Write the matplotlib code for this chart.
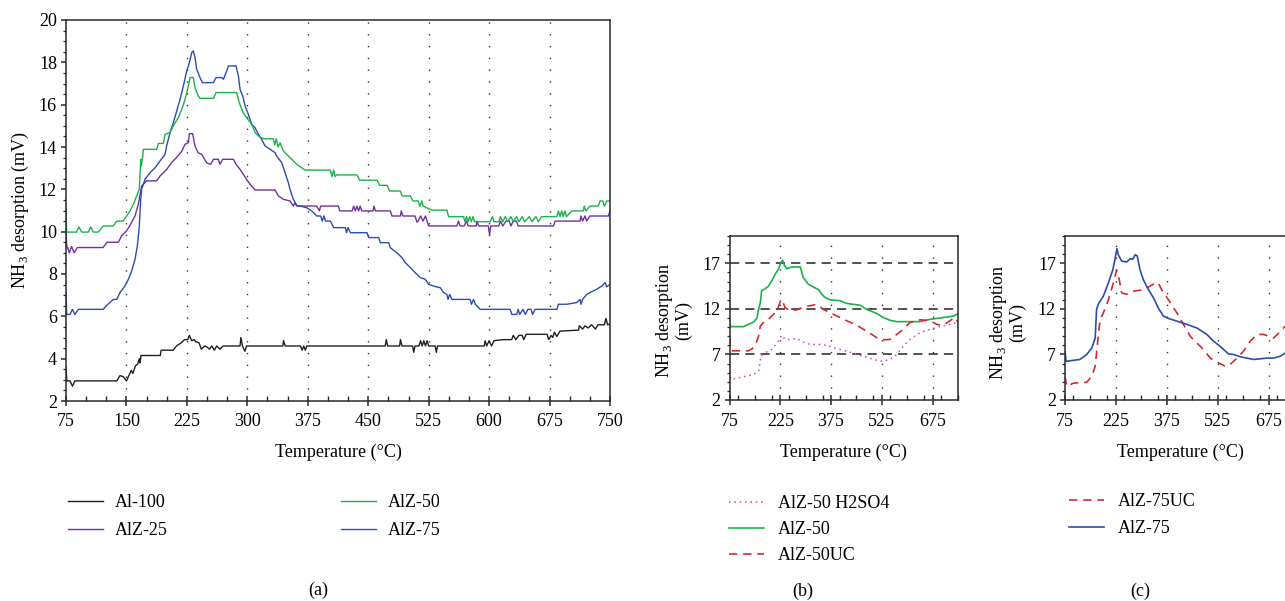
import matplotlib
matplotlib.use("Agg")
import matplotlib.pyplot as plt
from matplotlib.ticker import MultipleLocator, FixedLocator

# ---------------- data ----------------
# Panel (a)
t_al100 = [75, 76, 80, 83, 86, 138, 142, 146, 150, 153, 156, 158, 161, 164, 166, 167, 168, 192, 193,
           208, 212, 218, 222, 226, 228, 231, 234, 236, 240, 243, 247, 250, 253, 256, 259, 262, 266, 270,
           291, 292, 294, 297, 299, 344, 345, 347, 366, 368, 370, 372, 374, 471, 472.5, 474, 489, 490, 492,
           505, 506.5, 508, 513, 515, 517, 519, 521, 523, 525, 533, 534.5, 536, 594, 595, 597, 600, 603,
           606, 618, 628, 630, 633, 637, 641, 643, 646, 672, 674, 677, 679, 681, 684, 688, 711, 712, 716,
           719, 723, 727, 732, 735, 743, 745, 747, 750]
v_al100 = [3.6, 2.95, 2.95, 2.7, 2.95, 2.95, 3.2, 3.15, 2.95, 3.2, 3.45, 3.3, 3.65, 3.75, 4.0, 3.8, 4.15, 4.15, 4.4,
           4.4, 4.6, 4.75, 4.9, 4.9, 5.1, 4.85, 4.9, 4.8, 4.75, 4.45, 4.6, 4.55, 4.45, 4.6, 4.4, 4.6, 4.45, 4.6,
           4.6, 5.0, 4.6, 4.35, 4.6, 4.6, 4.85, 4.6, 4.6, 4.4, 4.6, 4.4, 4.6, 4.6, 4.9, 4.6, 4.6, 4.9, 4.6,
           4.6, 4.3, 4.6, 4.6, 4.85, 4.6, 4.85, 4.6, 4.85, 4.6, 4.6, 4.3, 4.6, 4.6, 4.85, 4.6, 4.85, 4.6,
           4.85, 4.9, 4.9, 5.1, 4.9, 5.1, 5.1, 4.9, 5.15, 5.15, 4.9, 5.1, 5.0, 5.25, 5.05, 5.3, 5.35, 5.55, 5.4,
           5.55, 5.45, 5.6, 5.4, 5.6, 5.6, 5.9, 5.6, 5.65]

t_alz25 = [75, 76, 77, 79, 82, 85, 89, 121, 126, 140, 144, 150, 154, 160.6, 164.8, 168.9, 175, 187.5, 191.7,
           199.9, 206, 212, 218.6, 222.7, 226.8, 228.1, 232.2, 235, 239, 243.4, 249.6, 254.5, 257.9, 264, 266,
           269.4, 282.7, 286, 291, 295, 299, 303.4, 309.6, 334.4, 338.5, 344.7, 353, 357, 359, 361.3, 386,
           389.4, 391, 413, 414.6, 430, 432, 434, 436, 438, 440, 442, 456, 457, 459, 477.4, 479.5, 490, 491,
           493, 508, 510.5, 512, 515, 518, 521, 523, 525, 560, 562, 564, 569, 572, 574, 584, 585, 587, 599,
           600.5, 602, 612, 614, 617, 621, 625, 627, 630, 634, 636, 640.6, 679.8, 681.9, 712.8, 714, 716,
           719, 721, 725, 748, 750]
v_alz25 = [10.0, 9.3, 9.25, 9.0, 9.3, 9.0, 9.25, 9.25, 9.5, 9.5, 9.8, 10.03, 10.27, 10.74, 11.3, 12.16, 12.4, 12.4, 12.63,
           12.94, 13.26, 13.5, 13.8, 14.13, 14.2, 14.63, 14.63, 14.05, 13.73, 13.65, 13.25, 13.18, 13.42, 13.42, 13.18,
           13.42, 13.42, 13.18, 12.94, 12.71, 12.47, 12.24, 11.97, 11.97, 11.69, 11.53, 11.45, 11.21, 11.37, 11.21, 11.21,
           10.98, 11.21, 11.21, 10.98, 10.98, 11.21, 10.98, 11.21, 10.98, 11.21, 10.98, 10.98, 11.21, 10.98, 10.98, 10.74, 10.74, 10.98,
           10.74, 10.74, 10.45, 10.5, 10.74, 10.5, 10.74, 10.5, 10.27, 10.27, 10.5, 10.27, 10.27, 10.5, 10.27, 10.27, 10.5, 10.27, 10.27,
           9.85, 10.27, 10.27, 10.5, 10.27, 10.5, 10.5, 10.27, 10.5, 10.5, 10.27, 10.27, 10.27, 10.5, 10.5, 10.74, 10.5,
           10.74, 10.5, 10.74, 10.74, 10.98]

t_alz50 = [75, 75.8, 88, 91, 94.4, 102.7, 105.6, 109, 115, 121.3, 133.7, 138, 146, 150.3, 154.4, 158.6, 162.7, 166,
           167.7, 168.5, 170.2, 171, 187.5, 189.6, 195.8, 197.9, 204, 208.2, 214.4, 218.6, 222.7, 226.8, 228.9, 233,
           235, 239.2, 241.3, 257.9, 261.2, 286.8, 290, 295, 299.2, 305.4, 309.6, 313.7, 319.9, 332.3, 334, 336,
           338, 340.6, 344.7, 348.8, 355, 361.3, 367.5, 371.6, 403, 405, 407, 409, 410.5, 436, 439.4, 461, 464.2,
           473.3, 476.6, 489.8, 491.9, 502.2, 505.5, 512, 514, 516.7, 518, 529, 547.6, 549.7, 568.3, 570, 572,
           574, 576, 578, 580, 582, 601.3, 604, 606, 612, 614, 617, 620, 623, 627, 630, 634, 637, 641, 644, 650,
           653, 658, 661, 665.3, 684, 686, 688, 690, 692, 694, 696, 702.5, 717, 718, 720, 725.2, 735.5, 737.6,
           741, 743, 746, 750]
v_alz50 = [11.1, 9.98, 9.98, 10.22, 9.98, 9.98, 10.22, 9.98, 9.98, 10.27, 10.27, 10.5, 10.5, 10.74, 10.98, 11.29, 11.69, 12.0,
           13.42, 13.1, 13.57, 13.89, 13.89, 14.17, 14.17, 14.6, 14.68, 15.0, 15.39, 15.78, 16.25, 16.88, 17.28, 17.28,
           16.8, 16.41, 16.3, 16.3, 16.57, 16.57, 16.09, 15.62, 15.39, 15.07, 14.68, 14.52, 14.39, 14.39, 14.1, 14.39,
           14.0, 14.2, 13.81, 13.65, 13.42, 13.18, 13.02, 12.91, 12.91, 12.6, 12.91, 12.6, 12.68, 12.68, 12.43, 12.43, 12.19,
           12.19, 11.92, 11.92, 11.69, 11.69, 11.45, 11.45, 11.2, 11.45, 11.21, 11.02, 11.02, 10.71, 10.71, 10.47, 10.71,
           10.47, 10.71, 10.47, 10.71, 10.47, 10.47, 10.71, 10.47, 10.47, 10.71, 10.47, 10.71, 10.47, 10.71, 10.47, 10.71, 10.47, 10.71, 10.47, 10.71,
           10.47, 10.71, 10.47, 10.71, 10.71, 10.98, 10.71, 10.98, 10.71, 10.98, 10.71, 10.98, 10.98, 11.21, 10.98, 11.21, 11.21, 11.45,
           11.45, 11.2, 11.45, 11.45]

t_alz75 = [75, 75.8, 80, 83, 86, 90.3, 121.3, 125.5, 133.7, 138, 142, 148, 152.4, 156.5, 160.6, 163.5, 166, 167.7,
           168.9, 173, 179.3, 185.5, 191.7, 197.9, 199.9, 204.1, 208.2, 212.3, 216.5, 220.6, 224.8, 228.1, 231, 233,
           235.1, 237.2, 241.3, 244.2, 257.9, 261.2, 268.2, 270.3, 274.4, 276.5, 286, 288.9, 291, 294.3, 297.2, 301.3,
           305.4, 309.6, 313.7, 317.8, 322, 328.2, 334.4, 336.5, 342.7, 346.8, 350.9, 353, 357.1, 361.3, 365.4, 373.7,
           379.9, 386.1, 391, 393, 395, 397, 403, 407.2, 421.7, 423, 425, 427.9, 448.5, 450.6, 463, 465, 475.4,
           477.4, 485.7, 491.9, 496, 502.2, 508.4, 514.6, 520.8, 525, 531.1, 539.4, 543.5, 547.6, 549, 551, 553.8,
           576.5, 578, 580.7, 583, 588.9, 626.1, 628.2, 634.4, 636, 638, 642, 645, 648, 652, 654, 657, 663.3, 684,
           686, 696.3, 708.7, 712.8, 714, 716, 721.1, 733.5, 739.7, 743.8, 746, 750]
v_alz75 = [7.1, 6.09, 6.09, 6.33, 6.09, 6.33, 6.33, 6.52, 6.8, 6.8, 7.12, 7.43, 7.75, 8.14, 8.69, 9.32, 10.27, 11.53,
           12.0, 12.47, 12.79, 13.02, 13.34, 13.65, 14.05, 14.68, 15.15, 15.7, 16.25, 16.88, 17.59, 17.98, 18.46, 18.54,
           18.22, 17.67, 17.28, 17.04, 17.04, 17.28, 17.28, 17.2, 17.59, 17.83, 17.83, 17.35, 16.72, 16.41, 15.94, 15.54,
           15.07, 14.91, 14.6, 14.36, 14.05, 13.89, 13.73, 13.57, 13.26, 12.79, 12.31, 12.0, 11.53, 11.24, 11.21, 11.13,
           10.98, 10.74, 10.74, 10.5, 10.74, 10.5, 10.5, 10.19, 10.19, 9.95, 10.19, 9.95, 9.95, 9.72, 9.72, 9.48, 9.48,
           9.24, 9.0, 8.77, 8.54, 8.3, 8.06, 7.83, 7.75, 7.51, 7.43, 7.35, 7.12, 7.04, 6.8, 7.04, 6.8,
           6.8, 6.57, 6.8, 6.57, 6.33, 6.33, 6.09, 6.09, 6.33, 6.09, 6.33, 6.09, 6.33, 6.33, 6.09, 6.33, 6.33, 6.33,
           6.57, 6.57, 6.65, 6.8, 6.57, 6.8, 7.04, 7.28, 7.43, 7.59, 7.4, 7.51]

# Panel (b)
t_b_h2so4 = [75, 79, 116, 146, 161, 168, 180, 200, 217, 229, 239, 254, 274, 293, 313, 343, 362, 382, 421,
             451, 480, 510, 529, 549, 569, 588, 608, 638, 667, 696, 726, 746, 751]
v_b_h2so4 = [5.7, 4.25, 4.55, 4.8, 5.15, 6.8, 7.2, 7.55, 8.3, 9.1, 8.65, 8.65, 8.75, 8.35, 8.1, 8.1, 8.0, 7.75, 7.35,
             7.0, 6.7, 6.35, 6.25, 6.45, 7.0, 7.9, 8.65, 9.4, 9.75, 10.05, 10.3, 10.5, 10.1]
t_b_alz50 = [75, 77, 116, 131, 146, 156, 161, 166, 170, 180, 190, 200, 210, 220, 227, 232, 237, 244, 259, 284,
             293, 308, 323, 338, 348, 357, 372, 402, 421, 461, 480, 510, 529, 549, 569, 638, 667, 707, 736, 751]
v_b_alz50 = [10.9, 10.05, 10.05, 10.3, 10.55, 11.0, 11.95, 12.7, 14.0, 14.2, 14.5, 15.1, 15.8, 16.4, 17.1, 17.35, 16.8, 16.4,
             16.6, 16.6, 15.45, 14.7, 14.4, 14.1, 13.6, 13.25, 13.0, 12.9, 12.6, 12.4, 11.95, 11.5, 11.05, 10.75, 10.6,
             10.6, 10.85, 11.05, 11.2, 11.5]
t_b_alz50uc = [75, 79, 131, 141, 151, 161, 166, 175, 190, 205, 217, 227, 232, 239, 254, 274, 293, 313, 333, 352,
               382, 421, 451, 480, 510, 529, 549, 569, 588, 608, 638, 667, 687, 707, 726, 741, 751]
v_b_alz50uc = [8.85, 7.4, 7.4, 7.6, 8.0, 9.0, 10.1, 10.5, 10.85, 11.4, 11.95, 13.05, 12.8, 12.15, 11.8, 11.9, 12.2, 12.35,
               12.5, 11.95, 11.4, 10.7, 10.2, 9.55, 8.85, 8.6, 8.65, 9.2, 9.75, 10.5, 10.8, 10.7, 10.3, 10.2, 10.7,
               11.05, 10.5]

# Panel (c)
t_c_alz75uc = [75, 80, 100, 139, 154, 164, 170, 178, 188, 203, 216, 227, 235, 242, 257, 277, 306, 326, 341, 350,
               360, 380, 405, 424, 444, 464, 483, 503, 518, 532, 547, 562, 582, 601, 621, 641, 660, 675, 690, 705, 724]
v_c_alz75uc = [4.6, 3.5, 3.85, 3.95, 4.6, 5.7, 7.9, 10.8, 11.55, 13.0, 14.65, 16.25, 15.2, 13.75, 13.6, 13.95, 14.1, 14.5,
               14.85, 14.85, 14.1, 13.0, 11.55, 10.3, 9.0, 8.25, 7.55, 6.6, 6.25, 6.0, 5.7, 5.9, 6.6, 7.35, 8.45, 9.2,
               9.2, 9.0, 8.8, 9.35, 10.1]
t_c_alz75 = [75, 78, 119, 139, 154, 164, 168, 173, 188, 203, 216, 222, 228, 232, 242, 257, 267, 275, 282, 288, 296,
             306, 321, 336, 350, 365, 380, 405, 434, 464, 493, 513, 532, 557, 572, 591, 611, 631, 670, 690, 709, 724]
v_c_alz75 = [7.35, 6.25, 6.45, 7.0, 7.7, 8.8, 11.9, 12.5, 13.4, 14.85, 16.3, 17.4, 18.6, 17.95, 17.25, 17.15, 17.5, 17.45,
             17.95, 17.8, 16.3, 15.2, 14.1, 13.2, 12.1, 11.2, 10.95, 10.65, 10.3, 9.9, 9.2, 8.45, 7.9, 7.05, 7.0, 6.75,
             6.6, 6.45, 6.6, 6.6, 6.8, 7.15]

xticks_a = [75, 150, 225, 300, 375, 450, 525, 600, 675, 750]
yticks_a = [2, 4, 6, 8, 10, 12, 14, 16, 18, 20]
xticks_bc = [75, 225, 375, 525, 675]
yticks_bc = [2, 7, 12, 17]
hlines_b = [7, 12, 17]

# ---------------- styling ----------------
plt.rcParams['font.family'] = ['Liberation Serif', 'DejaVu Serif']
plt.rcParams['mathtext.fontset'] = 'custom'
plt.rcParams['mathtext.rm'] = 'Liberation Serif'
FS = 13
C_BLACK = '#231f20'
C_PURPLE = '#7030a0'
C_GREEN = '#1db14b'
C_BLUE = '#2b4eae'
C_RED = '#d42a2e'
C_PINK = '#cc4ab8'
SPINE = '#2a2a2a'
LW = 1.0

W, H = 1285, 601
fig = plt.figure(figsize=(W / 100, H / 100), dpi=100)


def px(x0, y0, x1, y1):
    return [x0 / W, 1 - y1 / H, (x1 - x0) / W, (y1 - y0) / H]


def style_axes(ax, xticks, yticks, xminor, yminor, vgrid):
    ax.set_xlim(75, 750)
    ax.set_ylim(2, 20)
    ax.xaxis.set_major_locator(FixedLocator(xticks))
    ax.yaxis.set_major_locator(FixedLocator(yticks))
    ax.xaxis.set_minor_locator(MultipleLocator(xminor))
    ax.yaxis.set_minor_locator(MultipleLocator(yminor))
    ax.tick_params(axis='x', which='major', direction='inout', length=7, width=1.1, color=SPINE,
                   labelsize=FS, pad=5.5)
    ax.tick_params(axis='x', which='minor', direction='in', length=3.5, width=1.0, color=SPINE)
    ax.tick_params(axis='y', which='major', direction='out', length=3.5, width=1.1, color=SPINE,
                   labelsize=FS, pad=3)
    ax.tick_params(axis='y', which='minor', direction='out', length=2, width=0.9, color=SPINE)
    for s in ax.spines.values():
        s.set_color(SPINE)
        s.set_linewidth(1.1)
    for xv in vgrid:
        ax.axvline(xv, color='#333333', lw=1.0, ls=(0, (1, 7.5)), zorder=0)


# ---------------- panel (a) ----------------
ax_a = fig.add_axes(px(66, 20, 610, 401))
style_axes(ax_a, xticks_a, yticks_a, 25, 0.5, xticks_a[1:-1])
la1, = ax_a.plot(t_al100, v_al100, color=C_BLACK, lw=LW)
la2, = ax_a.plot(t_alz25, v_alz25, color=C_PURPLE, lw=LW)
la4, = ax_a.plot(t_alz75, v_alz75, color=C_BLUE, lw=LW)
la3, = ax_a.plot(t_alz50, v_alz50, color=C_GREEN, lw=LW)
fig.text(338 / W, 1 - 452 / H, 'Temperature (°C)', ha='center', va='center', fontsize=FS)
fig.text(20 / W, 1 - 210 / H, 'NH$_3$ desorption (mV)', ha='center', va='center', rotation=90,
         fontsize=FS)

# ---------------- panel (b) ----------------
ax_b = fig.add_axes(px(729.5, 236, 958, 400))
style_axes(ax_b, xticks_bc, yticks_bc, 50, 1, xticks_bc[1:])
for h in hlines_b:
    ax_b.axhline(h, color='#222222', lw=1.1, ls=(0, (6, 4)), zorder=0.5)
lb1, = ax_b.plot(t_b_h2so4, v_b_h2so4, color=C_PINK, lw=1.1, ls=(0, (1, 2.5)))
lb2, = ax_b.plot(t_b_alz50, v_b_alz50, color=C_GREEN, lw=1.2)
lb3, = ax_b.plot(t_b_alz50uc, v_b_alz50uc, color=C_RED, lw=1.2, ls=(0, (5, 3.5)))
fig.text(843 / W, 1 - 452 / H, 'Temperature (°C)', ha='center', va='center', fontsize=FS)
fig.text(673 / W, 1 - 320 / H, 'NH$_3$ desorption\n(mV)', ha='center', va='center', rotation=90,
         fontsize=FS, linespacing=1.05)

# ---------------- panel (c) ----------------
ax_c = fig.add_axes(px(1065, 236, 1294, 400))
style_axes(ax_c, xticks_bc, yticks_bc, 50, 1, xticks_bc[1:])
lc1, = ax_c.plot(t_c_alz75uc, v_c_alz75uc, color=C_RED, lw=1.2, ls=(0, (5, 3.5)))
lc2, = ax_c.plot(t_c_alz75, v_c_alz75, color=C_BLUE, lw=1.2)
fig.text(1180 / W, 1 - 452 / H, 'Temperature (°C)', ha='center', va='center', fontsize=FS)
fig.text(1007 / W, 1 - 322 / H, 'NH$_3$ desorption\n(mV)', ha='center', va='center', rotation=90,
         fontsize=FS, linespacing=1.05)

# ---------------- legends ----------------
def leg(handles, labels, x, y, spacing, pad):
    lg = fig.legend(handles, labels, loc='upper left', bbox_to_anchor=(x / W, 1 - y / H),
                    frameon=False, fontsize=FS, handlelength=1.95, handletextpad=pad,
                    borderpad=0, borderaxespad=0, labelspacing=spacing)
    return lg

leg([la1, la2], ['Al-100', 'AlZ-25'], 68, 494, 0.62, 0.65)
leg([la3, la4], ['AlZ-50', 'AlZ-75'], 341, 494, 0.62, 0.65)
leg([lb1, lb2, lb3], ['AlZ-50 H2SO4', 'AlZ-50', 'AlZ-50UC'], 729, 495, 0.5, 0.75)
leg([lc1, lc2], ['AlZ-75UC', 'AlZ-75'], 1069, 493, 0.55, 0.75)

# panel letters
fig.text(318 / W, 1 - 590 / H, '(a)', ha='center', va='center', fontsize=FS)
fig.text(803 / W, 1 - 591 / H, '(b)', ha='center', va='center', fontsize=FS)
fig.text(1140 / W, 1 - 591 / H, '(c)', ha='center', va='center', fontsize=FS)

fig.savefig('out.png', dpi=100)
